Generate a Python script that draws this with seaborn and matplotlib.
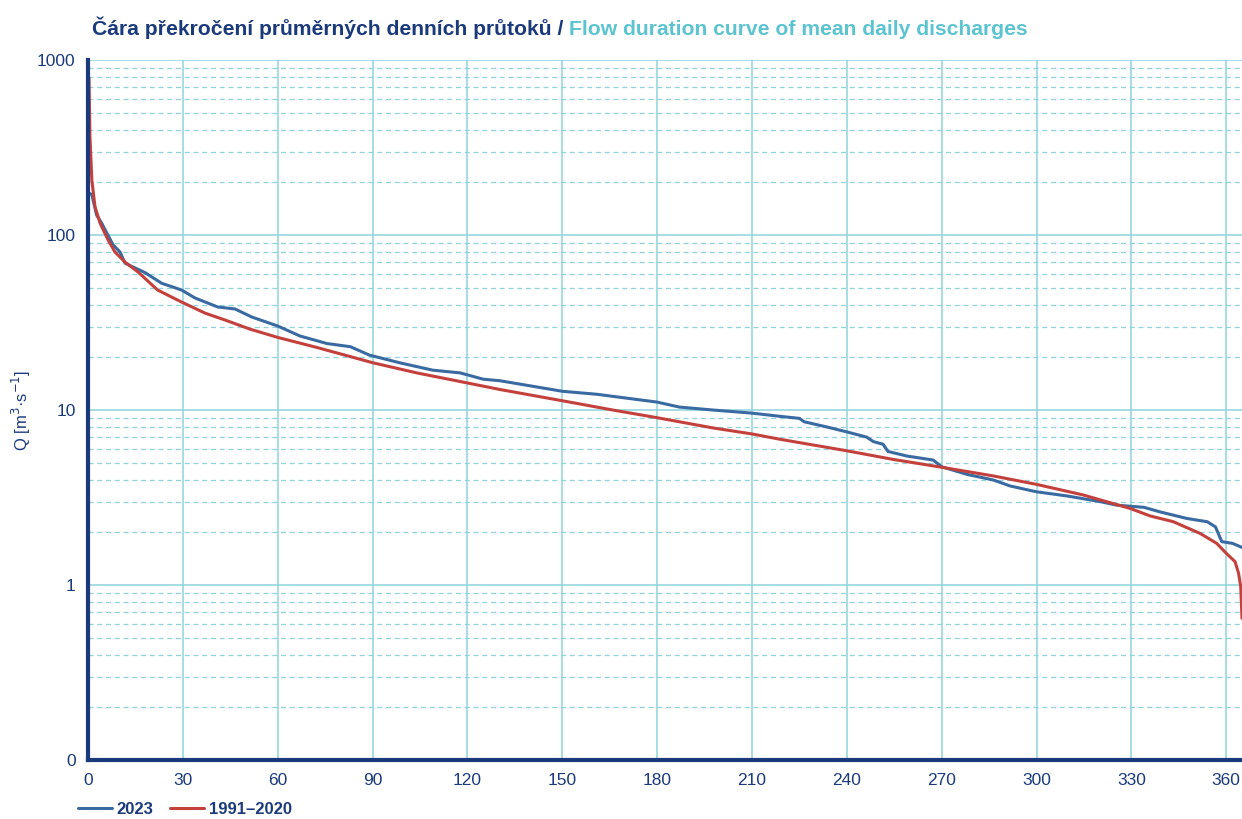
import numpy as np
import pandas as pd
import matplotlib
matplotlib.use("Agg")
import matplotlib.pyplot as plt
import matplotlib.ticker as mticker
import seaborn as sns

# values (day of exceedance, discharge m3/s)
days_2023 = [0, 1.2, 2.7, 4.3, 5.9, 7.9, 10.1, 11.7, 18, 23.3, 29.6, 33.8, 41, 46.5, 51.8,
             60, 67, 75.5, 83, 89, 98.7, 109, 117.7, 125, 130.3, 150, 161, 180, 187,
             197.7, 210, 219, 225, 226.5, 233.7, 240, 246.3, 248.4, 251.5, 253, 259,
             267.3, 270, 278, 286.4, 291.7, 300, 309.6, 320, 325.4, 334, 339, 347.6,
             354, 356.6, 358.6, 362, 365]
q_2023 = [175, 170, 130, 117, 103, 88, 80, 69, 61, 53, 48.5, 43.7, 38.8, 37.8, 34,
          30.2, 26.5, 24, 23, 20.6, 18.6, 16.9, 16.3, 15.0, 14.7, 12.8, 12.3, 11.1, 10.4,
          10.0, 9.6, 9.2, 8.96, 8.57, 8.0, 7.5, 7.0, 6.6, 6.37, 5.8, 5.46,
          5.18, 4.74, 4.29, 3.98, 3.68, 3.41, 3.23, 3.0, 2.86, 2.78, 2.62, 2.4,
          2.3, 2.15, 1.77, 1.73, 1.64]

days_norm = [0.3, 0.6, 1.2, 2.2, 3.8, 6.3, 8.5, 11.7, 15.8, 22, 29.6, 37, 43.3, 51.2,
             60, 72.3, 90.2, 104, 119.8, 130.3, 150, 166, 180, 197.7, 210, 219, 240,
             254.7, 270, 286.4, 300, 314.8, 329.6, 336, 343.3, 351.8, 357, 360, 362.8,
             363.9, 364.6, 365]
q_norm = [790, 363, 206, 145, 117, 94, 80, 70, 61.5, 48.5, 41.4, 35.8, 32.7, 29,
          26, 22.8, 18.6, 16.3, 14.3, 13.1, 11.3, 10.0, 9.04, 7.9, 7.3, 6.8, 5.85,
          5.22, 4.71, 4.2, 3.76, 3.27, 2.74, 2.48, 2.3, 1.97, 1.73, 1.52, 1.36,
          1.17, 0.98, 0.645]

series_names = ["2023", "1991–2020"]
x_ticks = list(range(0, 361, 30))
y_ticks = [0.1, 1, 10, 100, 1000]
y_tick_labels = ["0", "1", "10", "100", "1000"]

df = pd.concat([
    pd.DataFrame({"den": days_2023, "Q": q_2023, "rada": series_names[0]}),
    pd.DataFrame({"den": days_norm, "Q": q_norm, "rada": series_names[1]}),
])

navy = "#1b3a7c"
teal = "#5bc4d0"
grid_c = "#8fd3dd"

sns.set_style("white")
plt.rcParams["font.family"] = ["Liberation Sans", "DejaVu Sans"]

fig = plt.figure(figsize=(12.42, 8.19), dpi=100)
ax = fig.add_axes([0.0709, 0.072, 0.9291, 0.8547])

sns.lineplot(data=df, x="den", y="Q", hue="rada", sort=False, estimator=None,
             palette=["#3a6aa2", "#c4403d"], linewidth=2.2, ax=ax)

ax.set_yscale("log")
ax.set_xlim(0, 365)
ax.set_ylim(0.1, 1000)
ax.set_xticks(x_ticks)
ax.set_yticks(y_ticks)
ax.set_yticklabels(y_tick_labels)
ax.yaxis.set_minor_locator(mticker.LogLocator(base=10, subs=np.arange(2, 10)))
ax.yaxis.set_minor_formatter(mticker.NullFormatter())
ax.tick_params(axis="both", which="both", length=0, colors=navy, labelsize=12.5, pad=9)

ax.grid(True, which="major", axis="both", color=grid_c, linewidth=1.1, linestyle="-")
ax.grid(True, which="minor", axis="y", color=grid_c, linewidth=0.9, linestyle=(0, (4, 3)))
ax.set_axisbelow(True)

for s in ["top", "right"]:
    ax.spines[s].set_visible(False)
for s in ["left", "bottom"]:
    ax.spines[s].set_color(navy)
    ax.spines[s].set_linewidth(3)

ax.set_xlabel("")
ax.set_ylabel("Q [m$^{3}$·s$^{-1}$]", color=navy, fontsize=12)
ax.yaxis.set_label_coords(-0.048, 0.5)

leg = ax.legend(loc="lower left", bbox_to_anchor=(0.051, -0.016), bbox_transform=fig.transFigure,
                ncol=2, frameon=False, handlelength=2.0, handletextpad=0.3, columnspacing=1.0,
                prop={"weight": "bold", "size": 12})
for t in leg.get_texts():
    t.set_color(navy)

t1 = fig.text(0.074, 0.957, "Čára překročení průměrných denních průtoků / ", color=navy,
              fontsize=15.2, fontweight="bold", va="baseline", ha="left")
fig.canvas.draw()
bb = t1.get_window_extent().transformed(fig.transFigure.inverted())
fig.text(bb.x1, 0.957, "Flow duration curve of mean daily discharges", color=teal,
         fontsize=15.2, fontweight="bold", va="baseline", ha="left")

fig.savefig("out.png", dpi=100)
